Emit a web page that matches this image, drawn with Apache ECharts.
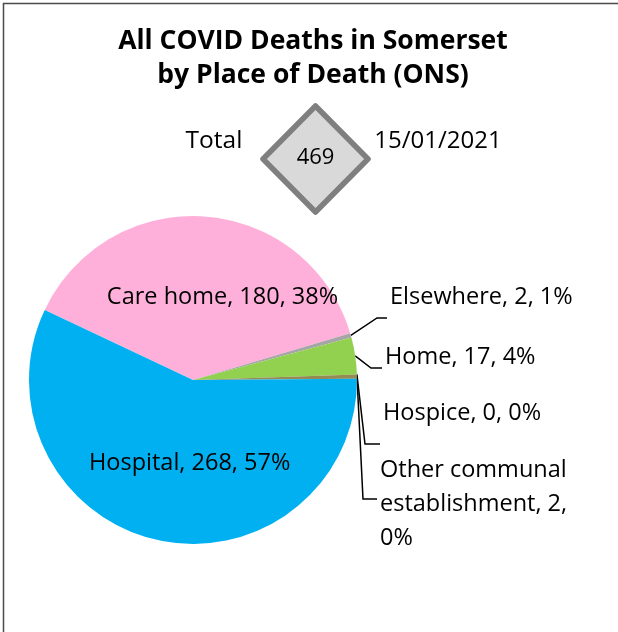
<!DOCTYPE html>
<html>
<head>
<meta charset="utf-8">
<script src="https://cdn.jsdelivr.net/npm/echarts@6/dist/echarts.min.js"></script>
<style>
  html, body { margin: 0; padding: 0; background: #fff; }
  #chart { width: 618px; height: 632px; }
</style>
</head>
<body>
<div id="chart"></div>
<script>
// data
var categories = ['Care home', 'Elsewhere', 'Home', 'Hospice', 'Other communal establishment', 'Hospital'];
var deaths = [180, 2, 17, 0, 2, 268];
var percents = [38, 1, 4, 0, 0, 57];
var total = 469;
var reportDate = '15/01/2021';

var colors = ['#FFB0DA', '#A6A6A6', '#92D050', '#4F81BD', '#948A54', '#00B0F0'];
var FONT = '"Open Sans", "Noto Sans", sans-serif';

// where each label sits (Excel had them moved by hand)
var labelPos = {
  'Care home': { dx: 23, dy: 2 },
  'Hospital': { dx: 15, dy: 0 },
  'Elsewhere': { x: 390, y: 297, lineY: 318, elbow: 377 },
  'Home': { x: 385, y: 357, lineY: 368, elbow: 371 },
  'Hospice': { x: 383, y: 413, lineY: 444, elbow: 365 },
  'Other communal establishment': { x: 380, y: 504, lineY: 499, elbow: 363 }
};

var chart = echarts.init(document.getElementById('chart'));

var seriesData = categories.map(function (name, i) {
  var inside = name === 'Care home' || name === 'Hospital';
  var item = {
    name: name,
    value: deaths[i],
    itemStyle: { color: colors[i] },
    label: { position: inside ? 'inside' : 'outside' },
    labelLine: { show: !inside }
  };
  if (name === 'Other communal establishment') {
    item.label.width = 206;
    item.label.overflow = 'break';
  }
  return item;
});

var option = {
  animation: false,
  graphic: [
    { type: 'rect', shape: { x: 3.5, y: 3.5, width: 700, height: 700 },
      style: { fill: 'none', stroke: '#4a4a4a', lineWidth: 1.5 } },
    { type: 'text', x: 313, y: 41,
      style: { text: 'All COVID Deaths in Somerset', font: 'bold 26.5px ' + FONT, fill: '#000', align: 'center', verticalAlign: 'middle' } },
    { type: 'text', x: 313, y: 75,
      style: { text: 'by Place of Death (ONS)', font: 'bold 26.5px ' + FONT, fill: '#000', align: 'center', verticalAlign: 'middle' } },
    { type: 'polygon', shape: { points: [[315.5, 106], [368, 159], [315.5, 212], [263, 159]] },
      style: { fill: '#D9D9D9', stroke: '#7F7F7F', lineWidth: 5.5, lineJoin: 'round' } },
    { type: 'text', x: 315.5, y: 158,
      style: { text: String(total), font: '22px ' + FONT, fill: '#000', align: 'center', verticalAlign: 'middle' } },
    { type: 'text', x: 214, y: 141,
      style: { text: 'Total', font: '24.5px ' + FONT, fill: '#000', align: 'center', verticalAlign: 'middle' } },
    { type: 'text', x: 438, y: 141,
      style: { text: reportDate, font: '24px ' + FONT, fill: '#000', align: 'center', verticalAlign: 'middle' } }
  ],
  series: [{
    type: 'pie',
    center: [193, 380],
    radius: 164,
    startAngle: 154.7,
    clockwise: true,
    avoidLabelOverlap: false,
    itemStyle: { borderWidth: 0 },
    label: {
      color: '#000',
      fontFamily: FONT,
      fontSize: 23.5,
      lineHeight: 34,
      formatter: function (p) {
        return p.name + ', ' + p.value + ', ' + percents[p.dataIndex] + '%';
      }
    },
    labelLine: { lineStyle: { color: '#000', width: 1.5 }, smooth: false },
    emphasis: { disabled: true },
    labelLayout: function (params) {
      var name = categories[params.dataIndex];
      var cfg = labelPos[name];
      if (cfg.x == null) {
        return { dx: cfg.dx, dy: cfg.dy };
      }
      var p0 = params.labelLinePoints ? params.labelLinePoints[0] : [357, 379];
      return {
        x: cfg.x,
        y: cfg.y,
        align: 'left',
        verticalAlign: 'middle',
        labelLinePoints: [p0, [cfg.elbow, cfg.lineY], [cfg.x - 3, cfg.lineY]]
      };
    },
    data: seriesData
  }]
};

chart.setOption(option);
</script>
</body>
</html>
